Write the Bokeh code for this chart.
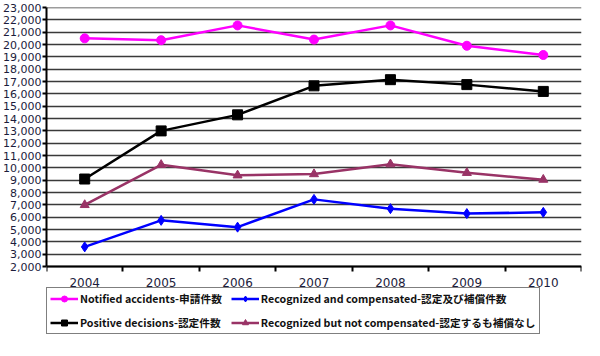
from bokeh.plotting import figure
from bokeh.models import (Range1d, FixedTicker, NumeralTickFormatter, Legend, LegendItem)
from bokeh.core.properties import value
from bokeh.embed import file_html
from bokeh.resources import INLINE

years = ["2004", "2005", "2006", "2007", "2008", "2009", "2010"]
notified = [20500, 20350, 21550, 20400, 21550, 19900, 19150]
positive = [9100, 13000, 14300, 16650, 17150, 16750, 16200]
recog_comp = [3600, 5750, 5200, 7450, 6700, 6300, 6400]
recog_not = [7000, 10250, 9400, 9500, 10300, 9600, 9050]
y_ticks = list(range(2000, 23001, 1000))

names = ["Notified accidents-申請件数", "Recognized and compensated-認定及び補償件数",
         "Positive decisions-認定件数", "Recognized but not compensated-認定するも補償なし"]

styles = [  # (color, marker, size)
    ("#ff00ff", "circle", 9),
    ("#0000ff", "diamond", 10),
    ("black", "square", 10),
    ("#993366", "triangle", 9),
]
series = [notified, recog_comp, positive, recog_not]

xs = [i + 0.5 for i in range(len(years))]

# the frame extends below the value axis so that the legend fits inside it
y_bottom = -3500
year_label_y = 750

p = figure(frame_width=535, frame_height=327, output_backend="svg", toolbar_location=None,
           x_range=Range1d(0, len(years)), y_range=Range1d(y_bottom, 23000),
           min_border_left=45, min_border_right=4, min_border_top=7, min_border_bottom=0)
p.outline_line_color = None
p.background_fill_color = "white"

# horizontal grid lines at each value tick
p.xgrid.grid_line_color = None
p.ygrid.grid_line_color = None
p.hspan(y=y_ticks, line_color="#3a3a3a", line_width=1.5)

# y axis
p.yaxis.ticker = FixedTicker(ticks=y_ticks)
p.yaxis.bounds = (y_ticks[0], y_ticks[-1])
p.yaxis.formatter = NumeralTickFormatter(format="0,0")
p.yaxis.axis_line_width = 2
p.yaxis.axis_line_color = "black"
p.yaxis.major_tick_in = 0
p.yaxis.major_tick_out = 4
p.yaxis.major_tick_line_width = 2
p.yaxis.minor_tick_line_color = None
p.yaxis.major_label_text_font = "DejaVu Sans"
p.yaxis.major_label_text_font_size = "11px"
p.yaxis.major_label_text_color = "#1c1c3c"
p.yaxis.major_label_standoff = 1

# x axis at the 2,000 line: ticks at category boundaries, labels drawn as text
p.xaxis.fixed_location = y_ticks[0]
p.xaxis.ticker = FixedTicker(ticks=[], minor_ticks=list(range(len(years) + 1)))
p.xaxis.major_tick_line_color = None
p.xaxis.major_tick_out = 0
p.xaxis.major_label_standoff = 0
p.xaxis.minor_tick_line_color = "black"
p.xaxis.minor_tick_line_width = 2
p.xaxis.minor_tick_in = 0
p.xaxis.minor_tick_out = 5
p.xaxis.axis_line_width = 2
p.xaxis.axis_line_color = "black"

p.text(x=xs, y=[year_label_y] * len(years), text=years,
       text_font=value("DejaVu Sans"), text_font_size="12px", text_color="#1c1c3c",
       text_align="center", text_baseline="middle")

renderers = {}
for i in [0, 3, 1, 2]:
    c, m, s = styles[i]
    rl = p.line(xs, series[i], line_color=c, line_width=2.5)
    rm = p.scatter(xs, series[i], marker=m, size=s, fill_color=c, line_color=c)
    renderers[i] = [rl, rm]

items = [LegendItem(label=names[i], renderers=renderers[i]) for i in range(4)]
legend = Legend(items=items, orientation="horizontal", nrows=2)
legend.location = (0, 0)
legend.label_text_font = "Noto Sans CJK JP"
legend.label_text_font_style = "bold"
legend.label_text_font_size = "10.7px"
legend.label_text_color = "#111111"
legend.border_line_color = "black"
legend.border_line_width = 1
legend.background_fill_color = "white"
legend.glyph_width = 28
legend.glyph_height = 15
legend.label_standoff = 2
legend.spacing = 9
legend.padding = 3
legend.margin = 0
legend.label_height = 15
p.add_layout(legend, "center")

open("out.html", "w").write(file_html(p, INLINE))
